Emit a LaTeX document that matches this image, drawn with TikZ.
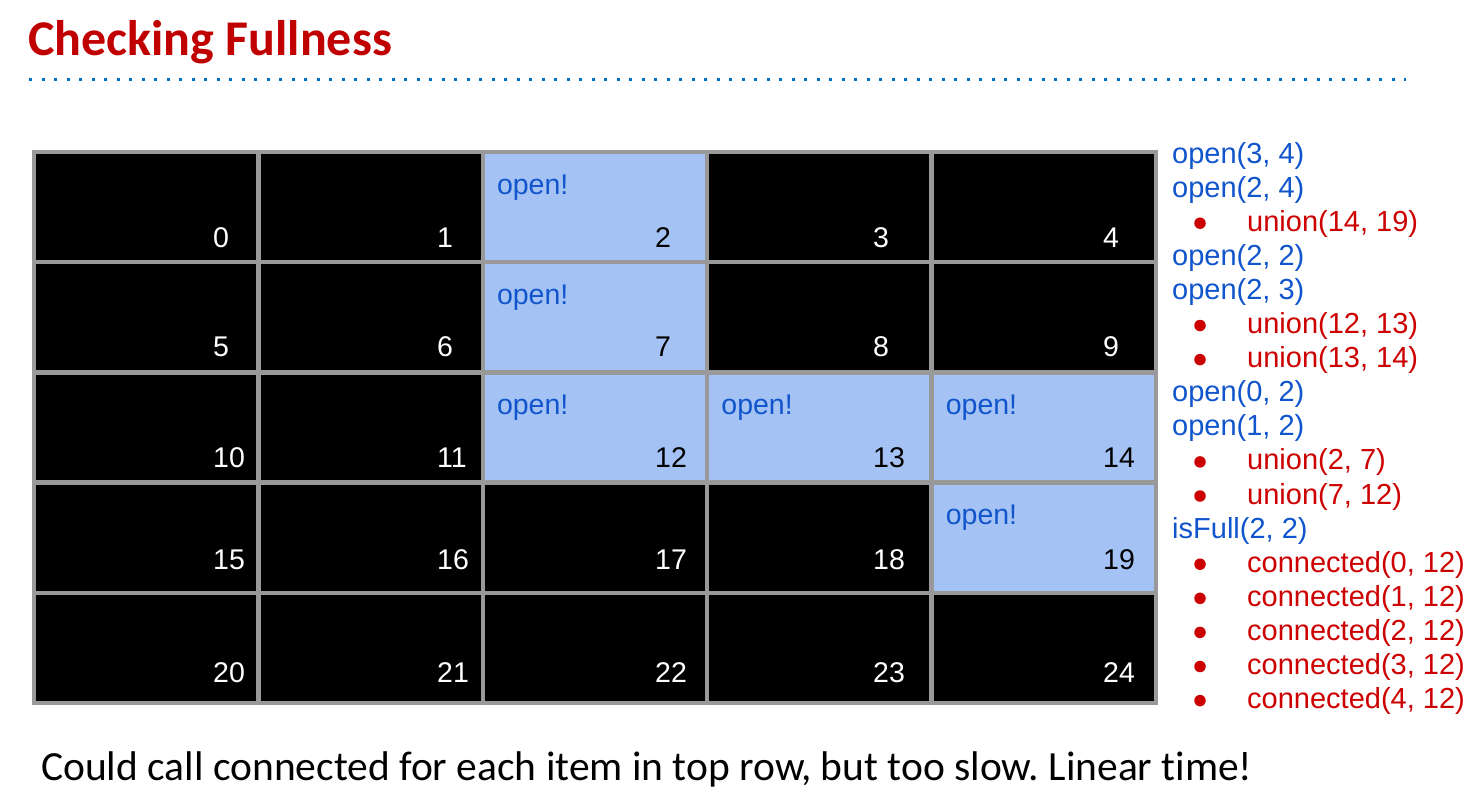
\documentclass[tikz,border=0pt]{standalone}
\usepackage{fontspec}
\setmainfont{Liberation Sans}
\newfontfamily\calibri{Carlito}
\newfontfamily\calibrinolig[Ligatures=NoCommon]{Carlito}
\definecolor{titlered}{RGB}{192,0,0}
\definecolor{rulblue}{RGB}{0,112,192}
\definecolor{txtblue}{RGB}{17,85,204}
\definecolor{txtred}{RGB}{204,0,0}
\definecolor{openfill}{RGB}{164,194,244}
\definecolor{gridgray}{RGB}{153,153,153}
\tikzset{
  openlbl/.style={anchor=base west, inner sep=0pt, text=txtblue, font=\fontsize{28.5}{33}\selectfont},
  numlbl/.style={anchor=base west, inner sep=0pt, font=\fontsize{28.5}{33}\selectfont},
  cmd/.style={anchor=base west, inner sep=0pt, text=txtblue, font=\fontsize{29}{34}\selectfont},
  sub/.style={anchor=base west, inner sep=0pt, text=txtred, font=\fontsize{29}{34}\selectfont},
  dotb/.style={circle, fill=txtred, inner sep=0pt, minimum size=11.5pt},
}
\begin{document}
\begin{tikzpicture}[x=1pt,y=-1pt]
\useasboundingbox (0,0) rectangle (1471,795);
% title
\node[anchor=base west, inner sep=0pt, text=titlered, font=\calibri\bfseries\fontsize{50}{60}\selectfont] (title) at (28,55) {Checking Fullness};
\coordinate (rl) at (29,79.5);
\coordinate (rr) at (1406,79.5);
\draw[rulblue, line width=3pt, dash pattern=on 3pt off 9.5pt] (rl) -- (rr);
% grid
\def\gx{34}\def\gy{152}\def\cw{224.4}\def\ch{110.2}
\def\numx{{213,437,655,873,1103}}
\def\numoff{{15,16,15,23,21}}
\foreach \r in {0,...,4}{
  \foreach \c in {0,...,4}{
    \pgfmathtruncatemacro{\n}{5*\r+\c}
    \pgfmathsetmacro{\xa}{\gx+\c*\cw}
    \pgfmathsetmacro{\ya}{\gy+\r*\ch}
    \pgfmathsetmacro{\xb}{\xa+\cw}
    \pgfmathsetmacro{\yb}{\ya+\ch}
    \pgfmathsetmacro{\nx}{\numx[\c]}
    \pgfmathsetmacro{\ny}{\yb-\numoff[\r]}
    \fill[black] (\xa,\ya) rectangle (\xb,\yb);
    \node[numlbl, text=white] (n\n) at (\nx,\ny) {\n};
  }
}
% open cells
\foreach \n/\c/\r in {2/2/0,7/2/1,12/2/2,13/3/2,14/4/2,19/4/3}{
  \pgfmathsetmacro{\xa}{\gx+\c*\cw}
  \pgfmathsetmacro{\ya}{\gy+\r*\ch}
  \pgfmathsetmacro{\xb}{\xa+\cw}
  \pgfmathsetmacro{\yb}{\ya+\ch}
  \pgfmathsetmacro{\nx}{\numx[\c]}
  \pgfmathsetmacro{\ny}{\yb-\numoff[\r]}
  \fill[openfill] (\xa,\ya) rectangle (\xb,\yb);
  \node[numlbl, text=black] (m\n) at (\nx,\ny) {\n};
  \node[openlbl] (o\n) at (\xa+14,\ya+42) {open!};
}
% grid lines
\foreach \c in {0,...,5}{
  \draw[gridgray, line width=4.5pt] ({\gx+\c*\cw},{\gy-2.25}) -- ({\gx+\c*\cw},{\gy+5*\ch+2.25});
}
\foreach \r in {0,...,5}{
  \draw[gridgray, line width=4.5pt] ({\gx-2.25},{\gy+\r*\ch}) -- ({\gx+5*\cw+2.25},{\gy+\r*\ch});
}
% right list
\def\lx{1172}\def\bx{1200}\def\sx{1247}\def\ly{163}\def\ls{34.1}
\node[cmd] (l0) at (\lx,\ly) {open(3, 4)};
\node[cmd] (l1) at (\lx,\ly+1*\ls) {open(2, 4)};
\node[sub] (l2) at (\sx,\ly+2*\ls) {union(14, 19)};
\node[cmd] (l3) at (\lx,\ly+3*\ls) {open(2, 2)};
\node[cmd] (l4) at (\lx,\ly+4*\ls) {open(2, 3)};
\node[sub] (l5) at (\sx,\ly+5*\ls) {union(12, 13)};
\node[sub] (l6) at (\sx,\ly+6*\ls) {union(13, 14)};
\node[cmd] (l7) at (\lx,\ly+7*\ls) {open(0, 2)};
\node[cmd] (l8) at (\lx,\ly+8*\ls) {open(1, 2)};
\node[sub] (l9) at (\sx,\ly+9*\ls) {union(2, 7)};
\node[sub] (l10) at (\sx,\ly+10*\ls) {union(7, 12)};
\node[cmd] (l11) at (\lx,\ly+11*\ls) {isFull(2, 2)};
\node[sub] (l12) at (\sx,\ly+12*\ls) {connected(0, 12)};
\node[sub] (l13) at (\sx,\ly+13*\ls) {connected(1, 12)};
\node[sub] (l14) at (\sx,\ly+14*\ls) {connected(2, 12)};
\node[sub] (l15) at (\sx,\ly+15*\ls) {connected(3, 12)};
\node[sub] (l16) at (\sx,\ly+16*\ls) {connected(4, 12)};
\foreach \i in {2,5,6,9,10,12,13,14,15,16}{
  \node[dotb] (b\i) at (\bx,\ly+\i*\ls-8) {};
}
% bottom text
\node[anchor=base west, inner sep=0pt, font=\calibrinolig\fontsize{41.5}{50}\selectfont\frenchspacing] (foot) at (41,780) {Could call connected for each item in top row, but too slow. Linear time!};
\end{tikzpicture}
\end{document}
